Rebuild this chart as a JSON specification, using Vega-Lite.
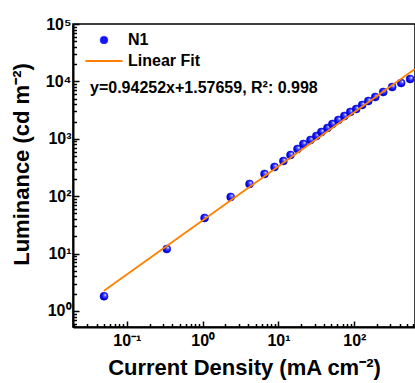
{
  "$schema": "https://vega.github.io/schema/vega-lite/v6.json",
  "width": 342,
  "height": 303,
  "autosize": {"type": "none"},
  "padding": {"left": 73, "top": 24, "right": 0, "bottom": 56},
  "background": "white",
  "config": {
    "font": "Liberation Sans",
    "view": {"stroke": "black", "strokeWidth": 1.5},
    "axis": {
      "domainColor": "black",
      "domainWidth": 2,
      "tickColor": "black",
      "tickWidth": 1.5,
      "grid": false,
      "labelFont": "Liberation Sans",
      "labelFontWeight": "bold",
      "labelFontSize": 16,
      "labelColor": "black",
      "titleFont": "Liberation Sans",
      "titleFontWeight": "bold",
      "titleFontSize": 22,
      "titleColor": "black",
      "labelOverlap": false,
      "labelFlush": false
    }
  },
  "datasets": {
    "meas": [
      {"J": 0.05, "L": 1.8},
      {"J": 0.336, "L": 12.0},
      {"J": 1.06, "L": 41.7},
      {"J": 2.34, "L": 96.9},
      {"J": 4.15, "L": 163},
      {"J": 6.54, "L": 244},
      {"J": 8.86, "L": 323},
      {"J": 11.6, "L": 410},
      {"J": 14.4, "L": 522},
      {"J": 17.8, "L": 664},
      {"J": 21.3, "L": 811},
      {"J": 26.4, "L": 953},
      {"J": 31.6, "L": 1119},
      {"J": 36.8, "L": 1313},
      {"J": 44.2, "L": 1542},
      {"J": 51.4, "L": 1811},
      {"J": 61.5, "L": 2127},
      {"J": 73.9, "L": 2497},
      {"J": 88.5, "L": 2932},
      {"J": 106, "L": 3305},
      {"J": 127, "L": 3881},
      {"J": 153, "L": 4557},
      {"J": 189, "L": 5350},
      {"J": 241, "L": 6536},
      {"J": 316, "L": 7980},
      {"J": 415, "L": 9370},
      {"J": 545, "L": 11000}
    ],
    "fit": [
      {"J": 0.05, "L": 2.24, "series": "Linear Fit"},
      {"J": 630, "L": 16400, "series": "Linear Fit"}
    ]
  },
  "layer": [
    {
      "data": {"name": "meas"},
      "mark": {
        "type": "point",
        "filled": true,
        "size": 64,
        "opacity": 1,
        "fill": {
          "gradient": "radial",
          "x1": 0.68, "y1": 0.32, "r1": 0,
          "x2": 0.55, "y2": 0.45, "r2": 0.55,
          "stops": [
            {"offset": 0, "color": "#ffffff"},
            {"offset": 0.3, "color": "#5a5aff"},
            {"offset": 0.7, "color": "#0a0aff"},
            {"offset": 1, "color": "#0000b0"}
          ]
        },
        "stroke": "#0000c8",
        "strokeWidth": 0.5
      },
      "encoding": {
        "x": {
          "field": "J", "type": "quantitative",
          "scale": {"type": "log", "domain": [0.0195, 632], "nice": false},
          "axis": {
            "title": "Current Density (mA cm⁻²)",
            "values": [0.02,0.03,0.04,0.05,0.06,0.07,0.08,0.09,0.1,0.2,0.3,0.4,0.5,0.6,0.7,0.8,0.9,1,2,3,4,5,6,7,8,9,10,20,30,40,50,60,70,80,90,100,200,300,400,500,600],
            "tickSize": {"condition": {"test": "abs(log(datum.value)/LN10 - round(log(datum.value)/LN10)) < 0.001", "value": -6}, "value": -3.5},
            "labelExpr": "abs(log(datum.value)/LN10 - round(log(datum.value)/LN10)) < 0.001 ? '10' + ['⁻¹','⁰','¹','²','³','⁴','⁵'][round(log(datum.value)/LN10)+1] : ''",
            "labelBaseline": "alphabetic",
            "labelPadding": 24,
            "titleBaseline": "alphabetic",
            "titleY": 47
          }
        },
        "y": {
          "field": "L", "type": "quantitative",
          "scale": {"type": "log", "domain": [0.525, 100000], "nice": false},
          "axis": {
            "title": "Luminance (cd m⁻²)",
            "values": [0.6,0.7,0.8,0.9,1,2,3,4,5,6,7,8,9,10,20,30,40,50,60,70,80,90,100,200,300,400,500,600,700,800,900,1000,2000,3000,4000,5000,6000,7000,8000,9000,10000,20000,30000,40000,50000,60000,70000,80000,90000,100000],
            "tickSize": {"condition": {"test": "abs(log(datum.value)/LN10 - round(log(datum.value)/LN10)) < 0.001", "value": -6}, "value": -3.5},
            "labelExpr": "abs(log(datum.value)/LN10 - round(log(datum.value)/LN10)) < 0.001 ? '10' + ['⁻¹','⁰','¹','²','³','⁴','⁵'][round(log(datum.value)/LN10)+1] : ''",
            "labelPadding": 8,
            "titleX": -40,
            "titleY": 140
          }
        }
      }
    },
    {
      "data": {"name": "fit"},
      "mark": {"type": "line", "strokeWidth": 1.8},
      "encoding": {
        "x": {"field": "J", "type": "quantitative"},
        "y": {"field": "L", "type": "quantitative"},
        "color": {
          "field": "series", "type": "nominal",
          "scale": {"domain": ["N1", "Linear Fit"], "range": ["#1414ff", "#ff8000"]},
          "legend": {
            "title": "y=0.94252x+1.57659, R²: 0.998",
            "titleOrient": "bottom",
            "titleAnchor": "start",
            "titleFont": "Liberation Sans",
            "titleFontSize": 16,
            "titleFontWeight": "bold",
            "titleColor": "black",
            "titleLimit": 400,
            "titlePadding": 11,
            "orient": "none",
            "legendX": 17,
            "legendY": 8,
            "padding": 0,
            "symbolType": "stroke",
            "labelFont": "Liberation Sans",
            "labelFontSize": 16,
            "labelFontWeight": "bold",
            "labelColor": "black",
            "labelOffset": 6,
            "rowPadding": 5,
            "encode": {
              "symbols": {
                "update": {
                  "x": {"value": 14},
                  "shape": {"signal": "datum.value === 'N1' ? 'circle' : 'stroke'"},
                  "size": {"signal": "datum.value === 'N1' ? 60 : 1370"},
                  "fill": {"signal": "datum.value === 'N1' ? '#1414ff' : 'transparent'"},
                  "stroke": {"signal": "datum.value === 'N1' ? '#0000c0' : '#ff8000'"},
                  "strokeWidth": {"signal": "datum.value === 'N1' ? 0.5 : 2"},
                  "opacity": {"value": 1}
                }
              },
              "labels": {
                "update": {
                  "x": {"value": 38}
                }
              }
            }
          }
        }
      }
    }
  ]
}
